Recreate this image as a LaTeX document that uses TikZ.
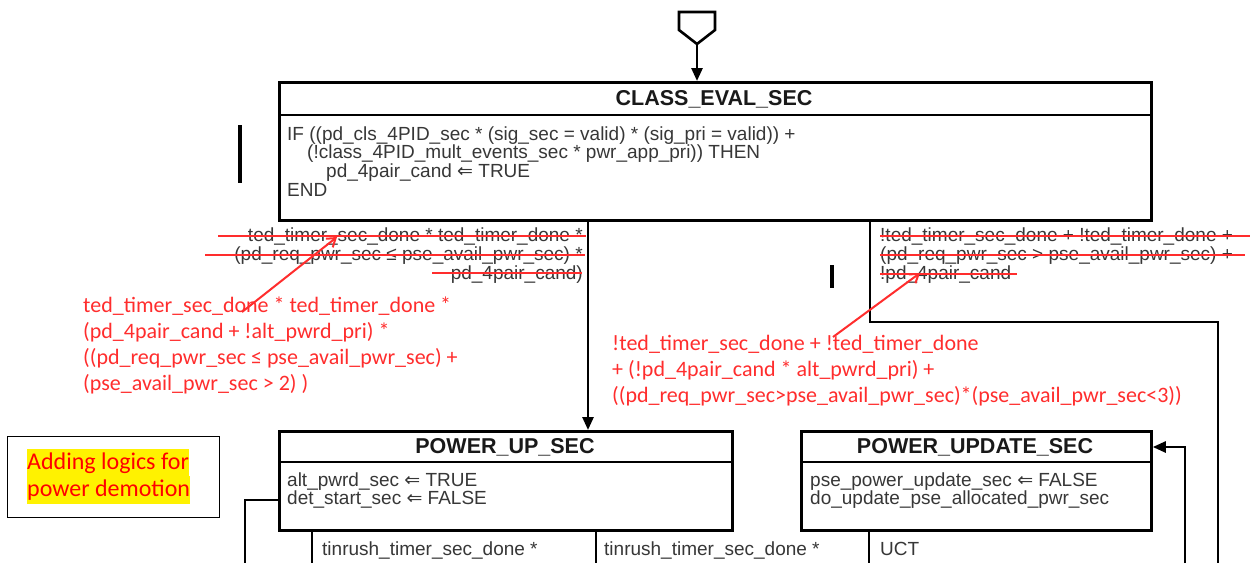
\documentclass[tikz,border=0pt]{standalone}
\usepackage{fontspec}
\setmainfont{Liberation Sans}
\newfontfamily\calfont{Carlito}
\newfontfamily\dvfont{DejaVu Sans}
\usetikzlibrary{arrows.meta}
\definecolor{annot}{RGB}{255,45,45}
\definecolor{txtgray}{RGB}{55,55,55}
\newcommand{\arrowsym}{{\dvfont ⇐}}
\begin{document}
\begin{tikzpicture}[x=1pt,y=-1pt,
  statebox/.style={draw, line width=2.8pt, inner sep=0, anchor=north west},
  ttl/.style={font=\fontsize{21.5}{24}\selectfont\bfseries, text=black!90, anchor=base, inner sep=0},
  bd/.style={font=\fontsize{19}{19}\selectfont, text=txtgray, anchor=base west, inner sep=0},
  bdr/.style={bd, anchor=base east},
  ann/.style={font=\calfont\fontsize{22}{26}\selectfont, text=annot, anchor=base west, inner sep=0},
  notetxt/.style={font=\calfont\fontsize{24}{28}\selectfont, text=red, fill=yellow, inner sep=0, text height=20.5pt, text depth=7pt, anchor=base west},
  strike/.style={draw=annot, line width=2pt},
  annarrow/.style={draw=annot, line width=2pt, -{Straight Barb[length=8pt,width=11pt]}},
  conn/.style={line width=2.6pt},
  arr/.style={conn, -{Triangle[length=13pt,width=11pt]}},
  chbar/.style={line width=4.5pt}]
\useasboundingbox[fill=white] (0,0) rectangle (1250,563);

% entry symbol
\draw[line width=2.6pt, fill=white] (679,12) -- (715,12) -- (715,30) -- (697,44) -- (679,30) -- cycle;
\coordinate (entry) at (697,44);

% CLASS_EVAL_SEC
\node[statebox, minimum width=872pt, minimum height=138pt] (ces) at (278,81) {};
\draw[line width=2.8pt] (ces.north west) ++(0,34) -- ++(872,0);
\node[ttl] (cest) at (714,105.5) {CLASS\_EVAL\_SEC};
\node[bd] (ces1) at (287,140) {IF ((pd\_cls\_4PID\_sec * (sig\_sec = valid) * (sig\_pri = valid)) +};
\node[bd] (ces2) at (307,158.7) {(!class\_4PID\_mult\_events\_sec * pwr\_app\_pri)) THEN};
\node[bd] (ces3) at (326,177.4) {pd\_4pair\_cand \arrowsym\ TRUE};
\node[bd] (ces4) at (287,196) {END};
\draw[arr] (entry) -- (entry |- ces.north);

% POWER_UP_SEC
\node[statebox, minimum width=453pt, minimum height=99pt] (pus) at (278,430) {};
\draw[line width=2.8pt] (pus.north west) ++(0,32) -- ++(453,0);
\node[ttl] (pust) at (505,453.5) {POWER\_UP\_SEC};
\node[bd] (pus1) at (287,486) {alt\_pwrd\_sec \arrowsym\ TRUE};
\node[bd] (pus2) at (287,504.5) {det\_start\_sec \arrowsym\ FALSE};

% POWER_UPDATE_SEC
\node[statebox, minimum width=350pt, minimum height=99pt] (pud) at (800,430) {};
\draw[line width=2.8pt] (pud.north west) ++(0,32) -- ++(350,0);
\node[ttl] (pudt) at (975,453.5) {POWER\_UPDATE\_SEC};
\node[bd] (pud1) at (810,486) {pse\_power\_update\_sec \arrowsym\ FALSE};
\node[bd] (pud2) at (810,504.5) {do\_update\_pse\_allocated\_pwr\_sec};

% connectors
\coordinate (c1) at (588,0);
\draw[arr] (ces.south -| c1) -- (pus.north -| c1);
\coordinate (c2) at (870,322);
\coordinate (c3) at (1218,563);
\draw[conn] (ces.south -| c2) -- (c2) -| (c3);
\coordinate (c4) at (1185,563);
\coordinate (c5) at (1185,447);
\draw[arr] (c4) -- (c5) -- (pud.east |- c5);
\coordinate (c6) at (245,500);
\coordinate (c7) at (245,563);
\draw[conn] (pus.west |- c6) -- (c6) -- (c7);
\coordinate (b1) at (312,563);
\coordinate (b2) at (596,563);
\coordinate (b3) at (869,563);
\draw[conn] (pus.south -| b1) -- (b1);
\draw[conn] (pus.south -| b2) -- (b2);
\draw[conn] (pud.south -| b3) -- (b3);
\node[bd] (tr1) at (322,555) {tinrush\_timer\_sec\_done *};
\node[bd] (tr2) at (604,555) {tinrush\_timer\_sec\_done *};
\node[bd] (tr3) at (880,555) {UCT};

% change bars
\draw[chbar] (240,125) -- (240,183);
\draw[chbar] (832,265) -- (832,288);

% struck-out conditions (left)
\node[bdr] (sl1) at (583,241) {ted\_timer\_sec\_done * ted\_timer\_done *};
\node[bdr] (sl2) at (583,260) {(pd\_req\_pwr\_sec ≤ pse\_avail\_pwr\_sec) *};
\node[bdr] (sl3) at (583,279) {pd\_4pair\_cand)};
\draw[strike] (218,236) -- (586,236);
\draw[strike] (205,255) -- (585,255);
\draw[strike] (432,273) -- (582,273);

% struck-out conditions (right)
\node[bd] (sr1) at (880,241) {!ted\_timer\_sec\_done + !ted\_timer\_done +};
\node[bd] (sr2) at (880,260) {(pd\_req\_pwr\_sec > pse\_avail\_pwr\_sec) +};
\node[bd] (sr3) at (880,279) {!pd\_4pair\_cand};
\draw[strike] (880,236) -- (1250,236);
\draw[strike] (880,255) -- (1245,255);
\draw[strike] (880,274) -- (1017,274);

% new conditions (red)
\node[ann] (al1) at (83,312) {ted\_timer\_sec\_done * ted\_timer\_done *};
\node[ann] (al2) at (83,338) {(pd\_4pair\_cand + !alt\_pwrd\_pri) *};
\node[ann] (al3) at (83,364) {((pd\_req\_pwr\_sec ≤ pse\_avail\_pwr\_sec) +};
\node[ann] (al4) at (83,390) {(pse\_avail\_pwr\_sec > 2) )};
\node[ann] (ar1) at (612,350) {!ted\_timer\_sec\_done + !ted\_timer\_done};
\node[ann] (ar2) at (612,376) {+ (!pd\_4pair\_cand * alt\_pwrd\_pri) +};
\node[ann] (ar3) at (612,402) {((pd\_req\_pwr\_sec>pse\_avail\_pwr\_sec)*(pse\_avail\_pwr\_sec<3))};
\coordinate (ra1s) at (242,312);
\coordinate (ra1e) at (337,237);
\draw[annarrow] (ra1s) -- (ra1e);
\coordinate (ra2s) at (833,337);
\coordinate (ra2e) at (920,273);
\draw[annarrow] (ra2s) -- (ra2e);

% note
\node[draw, line width=1pt, inner sep=0, minimum width=212pt, minimum height=81pt, anchor=north west] (note) at (7,436) {};
\node[notetxt] (n1) at (27,469) {Adding logics for};
\node[notetxt] (n2) at (27,496.5) {power demotion};
\end{tikzpicture}
\end{document}
